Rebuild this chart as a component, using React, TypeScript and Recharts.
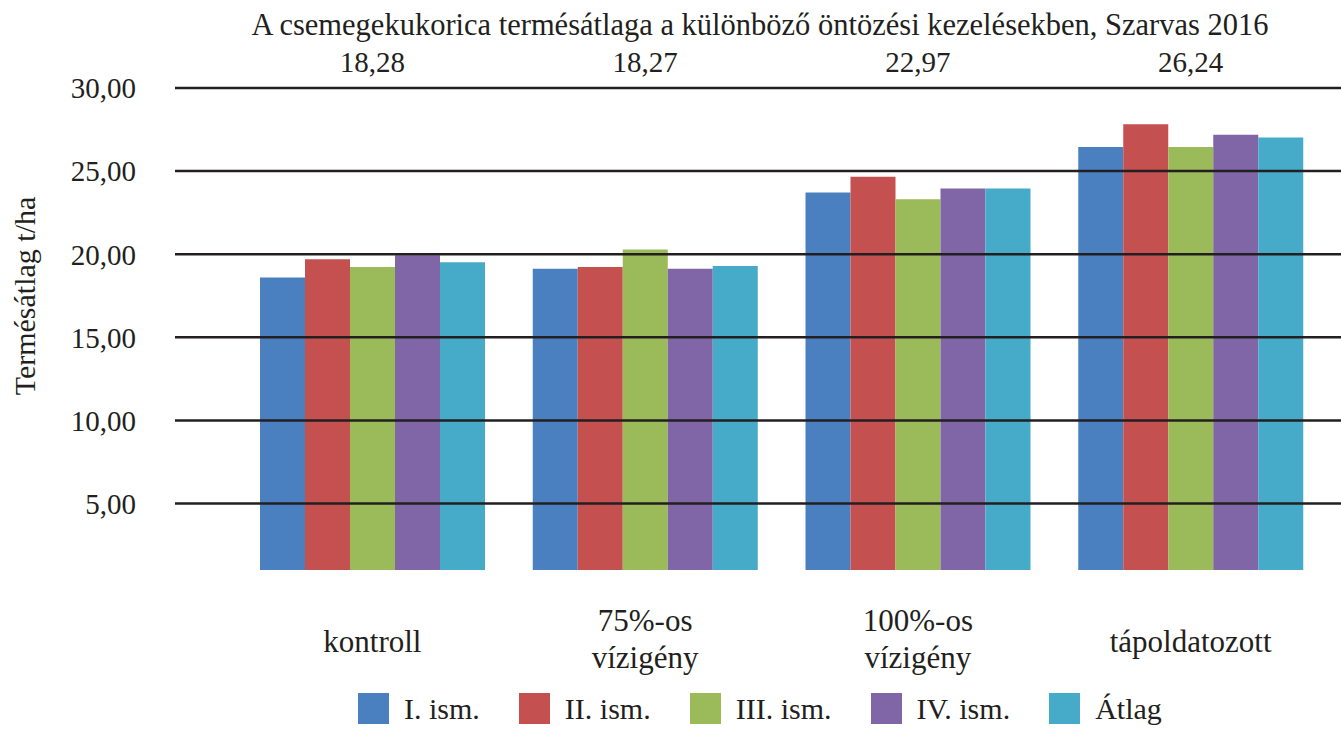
import React from 'react';
import { BarChart, Bar, XAxis, YAxis, ReferenceLine } from 'recharts';

const CATEGORIES = ['kontroll', '75%-os vízigény', '100%-os vízigény', 'tápoldatozott'];
const REP_1 = [18.6, 19.12, 23.71, 26.45];
const REP_2 = [19.69, 19.23, 24.66, 27.82];
const REP_3 = [19.23, 20.28, 23.3, 26.45];
const REP_4 = [19.94, 19.12, 23.95, 27.19];
const MEAN = [19.52, 19.29, 23.95, 27.02];
const HEADER_VALUES = [18.28, 18.27, 22.97, 26.24];
const Y_TICKS = [5, 10, 15, 20, 25, 30];

const SERIES = [
  { key: 'r1', name: 'I. ism.', values: REP_1, color: '#4A80BF' },
  { key: 'r2', name: 'II. ism.', values: REP_2, color: '#C45050' },
  { key: 'r3', name: 'III. ism.', values: REP_3, color: '#9BBA59' },
  { key: 'r4', name: 'IV. ism.', values: REP_4, color: '#8066A7' },
  { key: 'avg', name: 'Átlag', values: MEAN, color: '#45ABC8' },
];

const FONT = '"Liberation Serif", "DejaVu Serif", serif';
const INK = '#231f20';

const data = CATEGORIES.map((name, i) => {
  const row: any = { name };
  SERIES.forEach(s => { row[s.key] = s.values[i]; });
  return row;
});

const fmt = (v: number) => v.toFixed(2).replace('.', ',');

// category names wrap at the space, centred under each group
const CategoryTick = (props: any) => {
  const { x, y, payload } = props;
  const lines = String(payload.value).split(' ');
  const baselines = lines.length === 1 ? [82] : [61, 98];
  return (
    <g>
      {lines.map((line, i) => (
        <text key={i} x={x} y={y + baselines[i]} textAnchor="middle" fontSize={31} fontFamily={FONT} fill={INK}>
          {line}
        </text>
      ))}
    </g>
  );
};

const HeaderTick = (props: any) => {
  const { x, y, payload } = props;
  return (
    <text x={x} y={y - 16} textAnchor="middle" fontSize={29} fontFamily={FONT} fill={INK}>
      {fmt(HEADER_VALUES[payload.index])}
    </text>
  );
};

export default function App() {
  return (
    <div style={{ position: 'absolute', left: 0, top: 0, width: 1341, height: 730, fontFamily: FONT, color: INK, background: '#fff' }}>
      <BarChart width={1341} height={730} data={data} margin={{ top: 48, right: 0, bottom: 0, left: 0 }} barGap={0} barCategoryGap={24}>
        <XAxis dataKey="name" xAxisId={0} padding={{ left: 61, right: 14 }} axisLine={false} tickLine={false} tickSize={0} tickMargin={0} height={160} interval={0} tick={<CategoryTick />} />
        <XAxis dataKey="name" xAxisId="top" orientation="top" padding={{ left: 61, right: 14 }} axisLine={false} tickLine={false} tickSize={0} tickMargin={0} height={40} interval={0} tick={<HeaderTick />} />
        <YAxis type="number" domain={[1, 30]} ticks={Y_TICKS} width={175} axisLine={false} tickLine={false} tickSize={0} tickMargin={39} tickFormatter={fmt} tick={{ fontSize: 29, fontFamily: FONT, fill: INK }} />
        {SERIES.map(s => (
          <Bar key={s.key} dataKey={s.key} name={s.name} fill={s.color} xAxisId={0} isAnimationActive={false} />
        ))}
        {/* gridlines sit on top of the bars in the original */}
        {Y_TICKS.map(t => (
          <ReferenceLine key={t} y={t} xAxisId={0} stroke={INK} strokeWidth={2.5} />
        ))}
      </BarChart>

      <div style={{ position: 'absolute', left: 160, width: 1200, top: 10, textAlign: 'center', fontSize: 30.5, lineHeight: '30px', whiteSpace: 'nowrap' }}>
        A csemegekukorica termésátlaga a különböző öntözési kezelésekben, Szarvas 2016
      </div>

      <div style={{ position: 'absolute', left: 25, top: 296, transform: 'translate(-50%, -50%) rotate(-90deg)', fontSize: 30, lineHeight: '30px', whiteSpace: 'nowrap' }}>
        Termésátlag t/ha
      </div>

      <div style={{ position: 'absolute', left: 358, top: 693, display: 'flex', alignItems: 'center', fontSize: 30, lineHeight: '31px' }}>
        {SERIES.map(s => (
          <div key={s.key} style={{ display: 'flex', alignItems: 'center', marginRight: 39 }}>
            <span style={{ width: 31, height: 31, background: s.color, display: 'inline-block', marginRight: 15 }} />
            <span>{s.name}</span>
          </div>
        ))}
      </div>
    </div>
  );
}
